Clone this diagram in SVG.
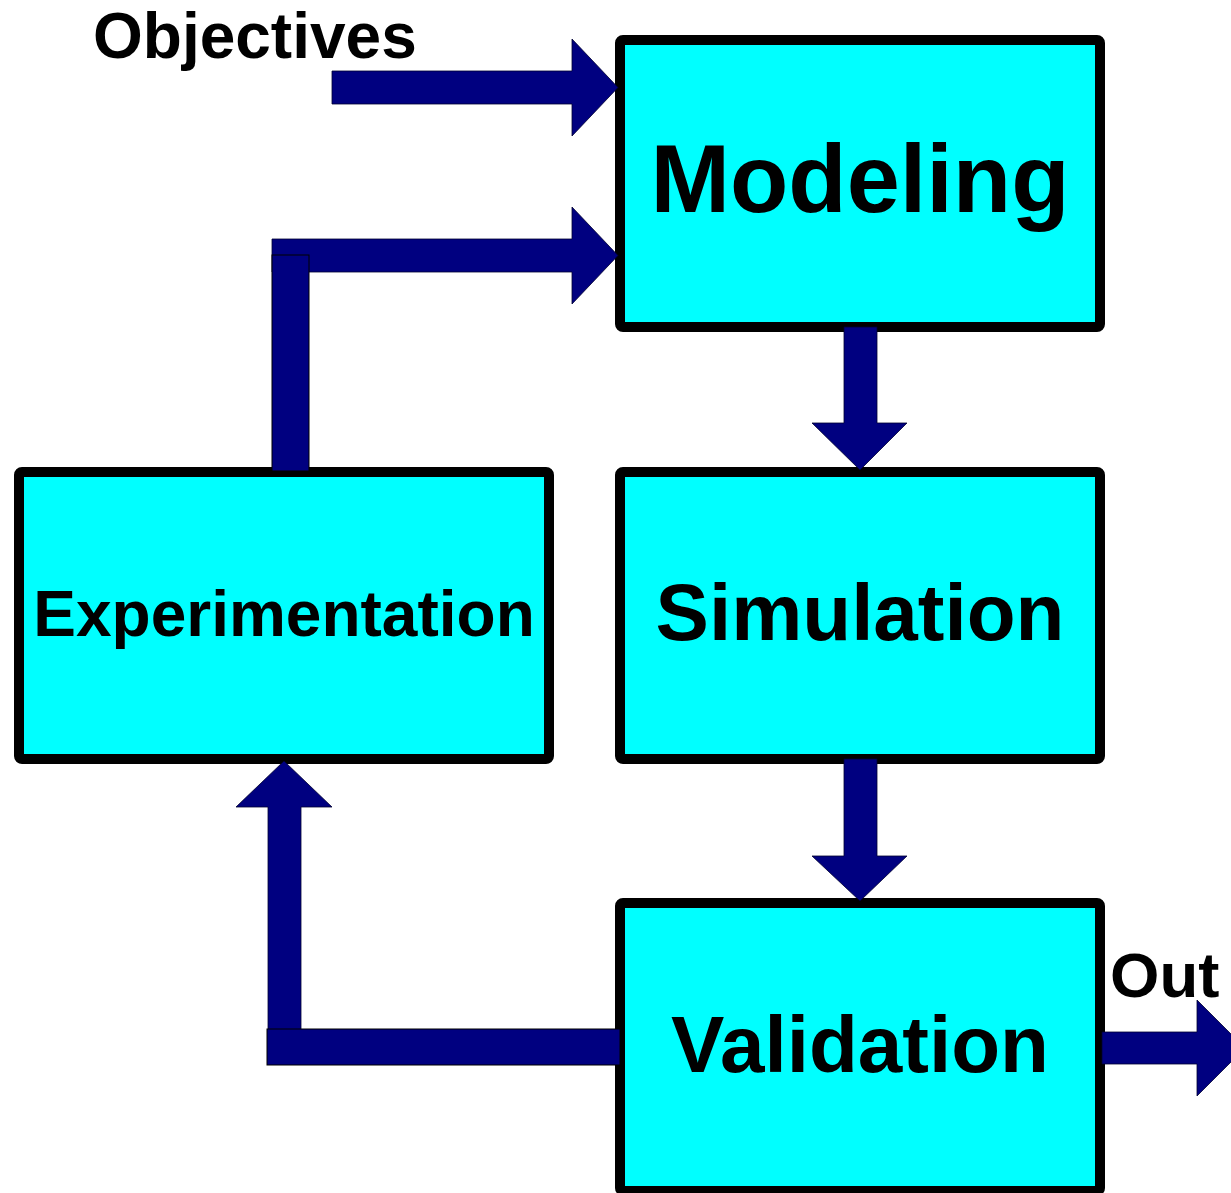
<svg xmlns="http://www.w3.org/2000/svg" width="1231" height="1193" viewBox="0 0 1231 1193">
<style>
.box{fill:#00FFFF;stroke:#000;stroke-width:10}
.arr{fill:#000080;stroke:#000030;stroke-width:0.8}
.bar{fill:#000080;stroke:#000;stroke-width:1}
text{font-family:"Liberation Sans",Arial,sans-serif;font-weight:bold;fill:#000}
</style>
<rect width="1231" height="1193" fill="#fff"/>
<g id="modeling"><rect class="box" x="620" y="40" width="480" height="287" rx="3"/><text x="860" y="212" font-size="95.5" text-anchor="middle">Modeling</text></g>
<g id="experimentation"><rect class="box" x="19" y="472" width="530" height="287" rx="3"/><text x="284" y="636" font-size="64" text-anchor="middle">Experimentation</text></g>
<g id="simulation"><rect class="box" x="620" y="472" width="480" height="287" rx="3"/><text x="860" y="640" font-size="80" text-anchor="middle">Simulation</text></g>
<g id="validation"><rect class="box" x="620" y="903" width="480" height="288" rx="3"/><text x="860" y="1072" font-size="80" text-anchor="middle">Validation</text></g>
<g id="labels">
<text x="93" y="58" font-size="64">Objectives</text>
<text x="1110" y="997" font-size="63.5">Out</text>
</g>
<g id="connectors">
<polygon class="arr" points="332,71 572,71 572,39 618,87.5 572,136 572,104 332,104"/>
<polygon class="arr" points="272,239 572,239 572,207 618,255.5 572,304 572,272 272,272"/>
<rect class="bar" x="272" y="255" width="37" height="216"/>
<polygon class="arr" points="844,327 877,327 877,423 907,423 860,470 812,423 844,423"/>
<polygon class="arr" points="844,759 877,759 877,856 907,856 860,901 812,856 844,856"/>
<polygon class="arr" points="268,1047 268,807 236,807 284,761 332,807 301,807 301,1047"/>
<rect class="bar" x="267" y="1029" width="353" height="36"/>
<polygon class="arr" points="1102,1032 1197,1032 1197,1000 1245,1048 1197,1096 1197,1064 1102,1064"/>
</g>
</svg>
